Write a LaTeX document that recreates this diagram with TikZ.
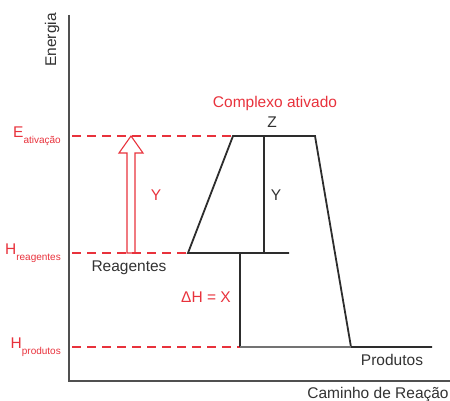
\documentclass[tikz,border=0pt]{standalone}
\usepackage{fontspec}
\setmainfont{Liberation Sans}
\definecolor{myred}{RGB}{232,50,60}
\definecolor{axisgray}{RGB}{80,80,80}
\definecolor{profgray}{RGB}{45,45,45}
\definecolor{textgray}{RGB}{50,50,50}
\begin{document}
\begin{tikzpicture}[x=1pt,y=-1pt,
  lbl/.style={inner sep=0pt,text=textgray,font=\fontsize{15.5}{18}\selectfont},
  redlbl/.style={lbl,text=myred},
  axisline/.style={draw=axisgray,line width=1.4pt},
  prof/.style={draw=profgray,line width=1.8pt},
  thin/.style={draw=profgray,line width=1.1pt},
  reddash/.style={draw=myred,line width=1.8pt,dash pattern=on 9pt off 6pt}]
\useasboundingbox (0,0) rectangle (450,401);
% axes
\coordinate (top) at (69,15);
\coordinate (orig) at (69,381);
\coordinate (xend) at (450,381);
\draw[axisline] (top) -- (orig) -- (xend);
\node[lbl,rotate=90] (energia) at (52,40) {Energia};
\node[lbl] (caminho) at (378,395) {Caminho de Reação};
% profile coordinates
\coordinate (r0) at (188,253);
\coordinate (r1) at (289,253);
\coordinate (t0) at (233,136);
\coordinate (t1) at (315,136);
\coordinate (p0) at (351,347);
\coordinate (p1) at (432,347);
\coordinate (ytop) at (264,136);
\coordinate (ybot) at (264,253);
\coordinate (dtop) at (240,253);
\coordinate (dbot) at (240,347);
% dashed levels
\coordinate (ea) at (72,136);
\coordinate (hr) at (72,253);
\coordinate (hp) at (72,347);
\draw[reddash] (ea) -- (t0);
\draw[reddash] (hr) -- (r0);
\draw[reddash] (hp) -- (dbot);
% profile
\draw[prof,line join=miter] (r1) -- (r0) -- (t0) -- (t1) -- (p0) -- (p1);
\draw[thin] (ytop) -- (ybot);
\draw[thin] (dtop) -- (dbot);
\draw[draw=axisgray!80,line width=1.6pt] (dbot) -- (p0);
% hollow arrow
\draw[myred,line width=1.1pt,line join=miter] (127,253) -- (127,153) -- (119,153) -- (131,136) -- (143,153) -- (135,153) -- (135,253) -- cycle;
% labels
\node[redlbl,anchor=east] (lea) at (61,136) {E\raisebox{-0.7ex}{\fontsize{10}{12}\selectfont ativação}};
\node[redlbl,anchor=east] (lhr) at (61,253) {H\raisebox{-0.7ex}{\fontsize{10}{12}\selectfont reagentes}};
\node[redlbl,anchor=east] (lhp) at (61,347) {H\raisebox{-0.7ex}{\fontsize{10}{12}\selectfont produtos}};
\node[redlbl] (y1) at (156,195) {Y};
\node[lbl] (y2) at (276,195) {Y};
\node[lbl] (z) at (272,122) {Z};
\node[redlbl] (cx) at (275,103) {Complexo ativado};
\node[redlbl] (dh) at (206,297) {ΔH = X};
\node[lbl] (reag) at (129,268) {Reagentes};
\node[lbl] (prod) at (392,360) {Produtos};
\end{tikzpicture}
\end{document}
